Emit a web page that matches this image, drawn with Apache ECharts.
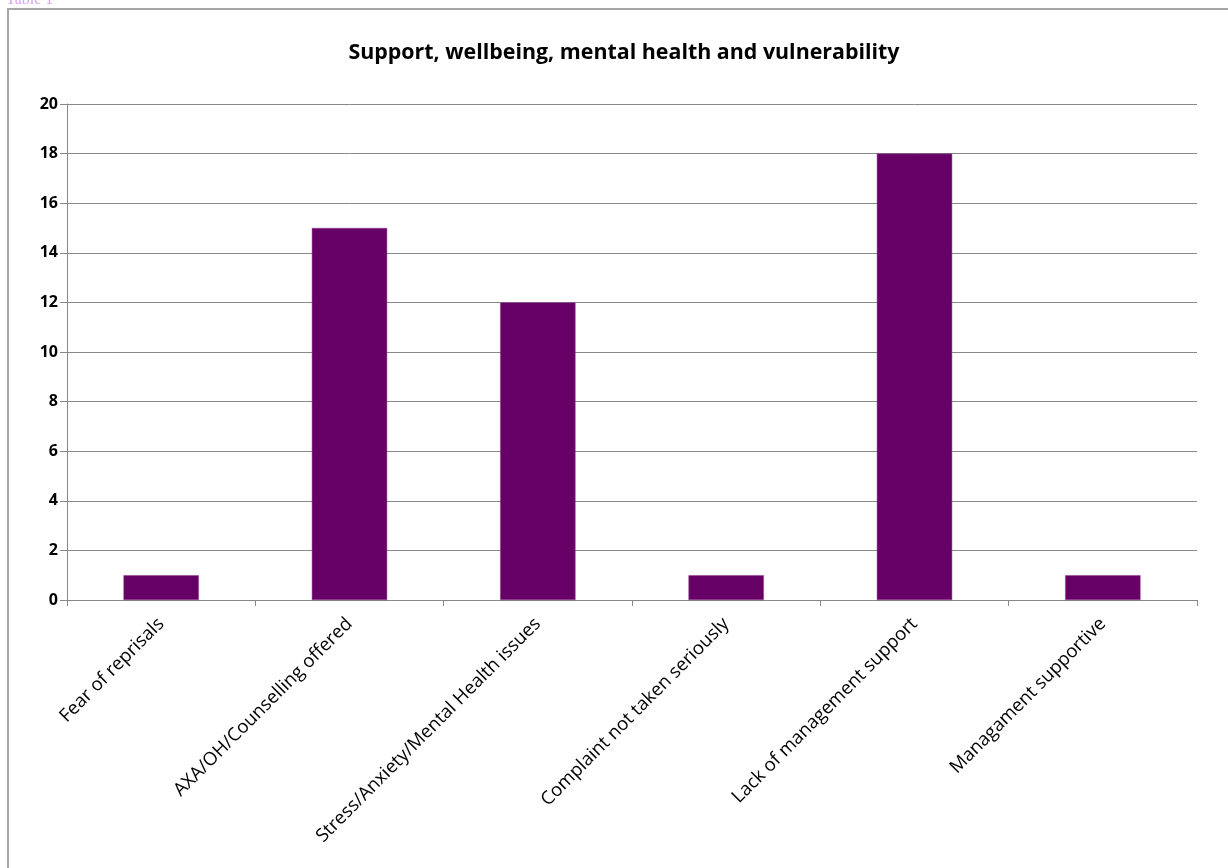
<!DOCTYPE html>
<html>
<head>
<meta charset="utf-8">
<script src="https://cdn.jsdelivr.net/npm/echarts@6/dist/echarts.min.js"></script>
<style>
html,body{margin:0;padding:0;background:#fff;}
#c{width:1228px;height:868px;}
</style>
</head>
<body>
<div id="c"></div>
<script>
const titleText = 'Support, wellbeing, mental health and vulnerability';
const categories = ['Fear of reprisals','AXA/OH/Counselling offered','Stress/Anxiety/Mental Health issues','Complaint not taken seriously','Lack of management support','Managament supportive'];
const values = [1, 15, 12, 1, 18, 1];
const yTicks = {min: 0, max: 20, interval: 2};

const chart = echarts.init(document.getElementById('c'));
chart.setOption({
  animation: false,
  backgroundColor: '#fff',
  title: {
    text: titleText,
    left: 619, top: 37, textAlign: 'center',
    textStyle: {fontFamily: 'Open Sans', fontWeight: 'bold', fontSize: 21.4, color: '#000'}
  },
  graphic: [
    {type: 'rect', shape: {x: 8, y: 9, width: 1240, height: 880}, style: {fill: 'none', stroke: '#a6a6a6', lineWidth: 2}, silent: true},
    {type: 'text', left: 6, top: -8, style: {text: 'Table 1', fill: '#d8a6ee', font: '16px "Liberation Serif"'}, silent: true}
  ],
  grid: {left: 67, right: 31, top: 104, bottom: 268, containLabel: false},
  xAxis: {
    type: 'category', data: categories,
    axisLine: {lineStyle: {color: '#888', width: 1}},
    axisTick: {show: true, length: 6, lineStyle: {color: '#888'}},
    axisLabel: {rotate: 45, interval: 0, fontFamily: 'Open Sans', fontSize: 18.5, color: '#000', margin: 21}
  },
  yAxis: {
    type: 'value', min: yTicks.min, max: yTicks.max, interval: yTicks.interval,
    axisLine: {show: true, lineStyle: {color: '#888'}},
    axisTick: {show: true, length: 7, lineStyle: {color: '#888'}},
    splitLine: {lineStyle: {color: '#888', width: 1}},
    axisLabel: {fontFamily: 'Open Sans', fontWeight: 'bold', fontSize: 16, color: '#000', margin: 9}
  },
  series: [{
    type: 'bar', data: values, barWidth: '40%',
    itemStyle: {color: '#660066', borderColor: '#8a3a8a', borderWidth: 0.5}
  }]
});
</script>
</body>
</html>
